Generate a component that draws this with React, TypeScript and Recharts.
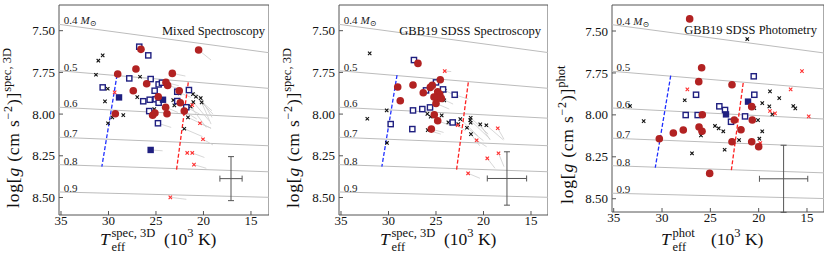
import React from "react";
import {
  ErrorBar,
  ReferenceArea,
  ReferenceDot,
  ReferenceLine,
  Scatter,
  ScatterChart,
  XAxis,
  YAxis
} from "recharts";

type XY = [number, number];
type Seg = [number, number, number, number];

// ---- shared guides (Teff in 10^3 K, log g) ----
const massLabels = ["0.4", "0.5", "0.6", "0.7", "0.8", "0.9"];
const trackTeff: [number, number] = [35.21, 13.1];
const trackLeft = [7.462, 7.74, 7.959, 8.139, 8.303, 8.467];
const trackRight = [7.632, 7.846, 8.025, 8.19, 8.346, 8.499];
const blueEdge: XY[] = [[29.1, 7.766], [30.7, 8.315]];
const redEdge: XY[] = [[21.6, 7.81], [22.85, 8.34]];
const xTicks = [35, 30, 25, 20, 15];
const yTicks = [7.5, 7.75, 8.0, 8.25, 8.5];

// ---- panel 1: mixed spectroscopy ----
const mixCircles: XY[] = [
  [26.58, 7.612], [20.51, 7.616], [27.11, 7.73], [29.03, 7.76], [23.28, 7.756],
  [25.98, 7.818], [23.95, 7.81], [23.77, 7.828], [27.39, 7.86], [22.55, 7.86],
  [24.76, 7.896], [22.44, 7.932], [23.98, 7.959], [22.02, 7.982], [29.28, 7.998],
  [25.35, 8.007], [25.11, 7.994], [23.84, 7.998]
];
const mixOpenSquares: XY[] = [
  [26.76, 7.596], [25.81, 7.648], [30.61, 7.84], [27.81, 7.786], [25.56, 7.79],
  [24.72, 7.822], [24.37, 7.812], [25.14, 7.86], [22.76, 7.866], [21.53, 7.856],
  [26.34, 7.923], [25.66, 7.914], [25.03, 7.911], [24.72, 7.932], [22.76, 7.922],
  [25.71, 7.982], [21.81, 7.959], [24.79, 8.055]
];
const mixFilledSquares: XY[] = [[28.89, 7.9], [24.26, 7.914], [25.56, 8.215]];
const mixBlackCrosses: XY[] = [
  [30.61, 7.648], [31.07, 7.68], [31.32, 7.764], [26.68, 7.776], [30.08, 7.848],
  [26.97, 7.898], [30.37, 7.924], [28.44, 8.006], [30.05, 8.055], [29.6, 8.02],
  [25.18, 7.97], [23.18, 7.916], [23.07, 7.948], [22.51, 7.876], [21.11, 7.88],
  [20.79, 7.896], [20.29, 7.904], [20.19, 7.93], [21.07, 7.928], [21.35, 7.954],
  [21.63, 8.02], [22.02, 8.088]
];
const mixRedCrosses: XY[] = [
  [29.35, 7.87], [21.18, 7.946], [20.37, 8.055], [20.05, 8.151], [21.71, 8.233],
  [21.18, 8.233], [21.0, 8.303], [23.49, 8.499]
];
const mixTails: Seg[] = [
  [20.51, 7.616, 19.2, 7.676], [23.28, 7.756, 21.9, 7.772], [21.53, 7.856, 20.2, 7.9],
  [22.76, 7.866, 21.3, 7.9], [21.11, 7.88, 19.1, 7.98], [20.79, 7.896, 19.0, 8.0],
  [20.29, 7.904, 19.1, 8.02], [20.19, 7.93, 19.2, 8.06], [21.07, 7.928, 19.4, 8.04],
  [21.35, 7.954, 19.7, 8.08], [21.63, 8.02, 19.2, 8.085], [22.02, 8.088, 20.1, 8.135],
  [20.37, 8.055, 19.2, 8.085], [20.05, 8.151, 19.0, 8.185], [21.18, 8.233, 19.9, 8.26],
  [21.0, 8.303, 19.7, 8.325], [23.49, 8.499, 21.8, 8.511], [25.56, 8.215, 24.3, 8.22],
  [24.79, 8.055, 23.4, 8.08], [22.02, 7.982, 20.7, 8.03], [23.98, 7.959, 22.7, 7.99],
  [22.44, 7.932, 21.0, 7.97], [21.81, 7.959, 20.4, 8.0], [23.95, 7.81, 22.6, 7.83],
  [23.77, 7.828, 22.4, 7.85]
];
const mixError = [{ x: 17.1, y: 8.387, ex: 1.17, ey: 0.132 }];

// ---- panel 2: GBB19 SDSS spectroscopy ----
const specCircles: XY[] = [
  [26.9, 7.696], [24.55, 7.794], [29.03, 7.838], [27.42, 7.826], [25.39, 7.828],
  [25.6, 7.84], [26.34, 7.872], [24.82, 7.866], [24.61, 7.882], [24.97, 7.896],
  [24.44, 7.906], [28.76, 7.92], [25.21, 7.898], [25.0, 7.936], [25.18, 8.004],
  [24.82, 8.04], [25.49, 8.09]
];
const specOpenSquares: XY[] = [
  [27.32, 7.676], [25.0, 7.81], [26.05, 7.858], [24.26, 7.852], [23.03, 7.884],
  [27.42, 7.978], [26.44, 7.97], [25.63, 7.96], [29.77, 8.06], [27.49, 8.09],
  [23.24, 8.05]
];
const specBlackCrosses: XY[] = [
  [31.98, 7.636], [32.23, 8.028], [30.19, 7.978], [30.16, 8.173], [24.08, 7.86],
  [24.13, 7.918], [25.91, 7.999], [25.56, 8.016], [24.4, 8.008], [23.7, 8.05],
  [22.44, 8.03], [22.65, 8.06], [21.35, 8.022], [21.4, 8.036], [21.35, 8.052],
  [21.74, 8.082], [21.32, 8.12], [20.34, 8.062], [19.7, 8.067], [25.87, 8.096]
];
const specRedCrosses: XY[] = [
  [24.08, 7.742], [22.72, 8.067], [18.5, 8.085], [20.72, 8.157], [18.42, 8.235],
  [19.6, 8.265], [21.62, 8.355]
];
const specTails: Seg[] = [
  [24.08, 7.742, 23.4, 7.745], [23.03, 7.884, 21.6, 7.91], [24.26, 7.852, 22.6, 7.9],
  [23.24, 8.05, 21.9, 8.1], [22.44, 8.03, 20.6, 8.13], [21.35, 8.022, 19.5, 8.12],
  [21.4, 8.036, 19.3, 8.15], [20.34, 8.062, 19.3, 8.155], [19.7, 8.067, 17.9, 8.155],
  [18.5, 8.085, 17.84, 8.151], [21.74, 8.082, 20.0, 8.16], [21.32, 8.12, 20.4, 8.19],
  [20.72, 8.157, 19.67, 8.196], [18.42, 8.235, 17.84, 8.315], [19.6, 8.265, 18.79, 8.325],
  [21.62, 8.355, 20.37, 8.385], [25.49, 8.09, 24.2, 8.11], [25.87, 8.096, 24.5, 8.12],
  [24.82, 8.04, 23.4, 8.07], [25.0, 7.936, 23.6, 7.97], [24.44, 7.906, 23.2, 7.94]
];
const specError = [{ x: 17.53, y: 8.386, ex: 2.07, ey: 0.16 }];

// ---- panel 3: GBB19 SDSS photometry ----
const photCircles: XY[] = [
  [27.14, 7.428], [25.9, 7.719], [26.2, 7.802], [25.83, 7.999], [26.17, 8.072],
  [25.86, 8.098], [27.8, 8.09], [28.83, 8.108], [30.28, 8.142], [25.07, 8.349],
  [22.76, 7.82], [20.72, 7.951], [22.52, 8.031], [20.66, 8.031], [21.83, 8.089],
  [22.76, 8.16], [20.72, 8.16], [20.0, 8.19]
];
const photOpenSquares: XY[] = [
  [20.51, 7.77], [20.45, 7.88], [24.07, 7.949], [23.48, 7.971], [22.86, 8.041],
  [21.41, 8.009], [26.48, 7.88], [27.55, 8.001], [26.31, 8.001]
];
const photFilledSquares: XY[] = [[21.1, 7.921], [23.38, 7.997]];
const photBlackCrosses: XY[] = [
  [21.18, 7.548], [31.9, 8.037], [27.65, 7.913], [33.31, 7.947], [25.97, 8.122],
  [24.52, 8.066], [24.14, 8.08], [23.66, 8.098], [26.9, 8.229], [23.52, 8.208],
  [18.83, 7.86], [17.87, 7.9], [19.63, 7.93], [18.9, 7.949], [18.59, 7.997],
  [16.42, 7.947], [16.21, 7.961], [20.07, 8.031], [19.63, 8.098], [19.93, 8.142],
  [22.03, 8.15], [20.45, 7.96]
];
const photRedCrosses: XY[] = [
  [27.38, 7.848], [15.52, 7.739], [16.69, 7.848], [18.83, 7.977], [18.31, 7.991],
  [14.82, 8.009], [19.83, 8.168]
];
const photError = [{ x: 17.42, y: 8.381, ex: 2.5, ey: 0.2 }];

const SERIF = "'Liberation Serif', 'DejaVu Serif', serif";
const RED = "#b22222";
const NAVY = "#1f1f80";

const toPts = (arr: XY[]) => arr.map(([x, y]) => ({ x, y }));

const RedDot = (p: any) => <circle cx={p.cx} cy={p.cy} r={3.8} fill={RED} />;
const OpenSquare = (p: any) => (
  <rect x={p.cx - 2.6} y={p.cy - 2.6} width={5.2} height={5.2} fill="#fff" stroke={NAVY} strokeWidth={1.4} />
);
const FilledSquare = (p: any) => (
  <rect x={p.cx - 3.2} y={p.cy - 3.2} width={6.4} height={6.4} fill={NAVY} />
);
const crossShape = (color: string) => (p: any) => (
  <path
    d={`M${p.cx - 1.7},${p.cy - 1.7}L${p.cx + 1.7},${p.cy + 1.7}M${p.cx - 1.7},${p.cy + 1.7}L${p.cx + 1.7},${p.cy - 1.7}`}
    stroke={color}
    strokeWidth={1.1}
  />
);
const BlackCross = crossShape("#111");
const RedCross = crossShape("#ff3030");
const Nothing = () => <g />;

type PanelProps = {
  plotL: number;
  plotW: number;
  plotB: number;
  xDomain: [number, number];
  yDomain: [number, number];
  circles: XY[];
  openSquares: XY[];
  filledSquares: XY[];
  blackCrosses: XY[];
  redCrosses: XY[];
  tails: Seg[];
  error: { x: number; y: number; ex: number; ey: number }[];
};

function Panel(props: PanelProps) {
  const yw = 50;
  const xh = 30;
  const tickStyle = { fill: "#111", fontSize: 13, fontFamily: SERIF };
  return (
    <div style={{ position: "absolute", left: props.plotL - yw, top: 0 }}>
      <ScatterChart
        width={yw + props.plotW}
        height={264}
        margin={{ top: 5, right: 0, left: 0, bottom: 264 - props.plotB - xh }}
      >
        <XAxis
          type="number"
          dataKey="x"
          domain={props.xDomain}
          allowDataOverflow
          reversed
          ticks={xTicks}
          height={xh}
          axisLine={false}
          tickSize={-4}
          tickMargin={5}
          tickLine={{ stroke: "#555" }}
          tick={tickStyle}
        />
        <YAxis
          type="number"
          dataKey="y"
          domain={props.yDomain}
          allowDataOverflow
          reversed
          ticks={yTicks}
          width={yw}
          axisLine={false}
          tickSize={-4}
          tickMargin={8}
          tickLine={{ stroke: "#555" }}
          tick={tickStyle}
          tickFormatter={(v: number) => v.toFixed(2)}
        />
        {massLabels.map((m, i) => (
          <ReferenceLine
            key={"trk" + m}
            segment={[
              { x: trackTeff[0], y: trackLeft[i] },
              { x: trackTeff[1], y: trackRight[i] }
            ]}
            stroke="#bcbcbc"
            strokeWidth={1}
            ifOverflow="hidden"
          />
        ))}
        {props.tails.map((t, i) => (
          <ReferenceLine
            key={"tail" + i}
            segment={[
              { x: t[0], y: t[1] },
              { x: t[2], y: t[3] }
            ]}
            stroke="#cdcdcd"
            strokeWidth={0.8}
            ifOverflow="hidden"
          />
        ))}
        {massLabels.map((m, i) => (
          <ReferenceDot
            key={"lbl" + m}
            x={34.7}
            y={trackLeft[i] + 0.006}
            ifOverflow="visible"
            shape={(p: any) => (
              <text x={p.cx} y={p.cy - 1} fontFamily={SERIF} fontSize={11} fill="#222">
                {m}
                {i === 0 ? (
                  <>
                    <tspan dx={3} fontStyle="italic">M</tspan>
                    <tspan fontSize={8} dy={2}>⊙</tspan>
                  </>
                ) : null}
              </text>
            )}
          />
        ))}
        <ReferenceLine
          segment={[
            { x: blueEdge[0][0], y: blueEdge[0][1] },
            { x: blueEdge[1][0], y: blueEdge[1][1] }
          ]}
          stroke="#2030ff"
          strokeWidth={1.3}
          strokeDasharray="4 2"
        />
        <ReferenceLine
          segment={[
            { x: redEdge[0][0], y: redEdge[0][1] },
            { x: redEdge[1][0], y: redEdge[1][1] }
          ]}
          stroke="#ff2020"
          strokeWidth={1.3}
          strokeDasharray="4 2"
        />
        <Scatter data={props.error} shape={Nothing} isAnimationActive={false}>
          <ErrorBar dataKey="ex" direction="x" width={3} stroke="#555" strokeWidth={1} />
          <ErrorBar dataKey="ey" direction="y" width={3} stroke="#555" strokeWidth={1} />
        </Scatter>
        <Scatter data={toPts(props.blackCrosses)} shape={BlackCross} isAnimationActive={false} />
        <Scatter data={toPts(props.redCrosses)} shape={RedCross} isAnimationActive={false} />
        <Scatter data={toPts(props.openSquares)} shape={OpenSquare} isAnimationActive={false} />
        <Scatter data={toPts(props.filledSquares)} shape={FilledSquare} isAnimationActive={false} />
        <Scatter data={toPts(props.circles)} shape={RedDot} isAnimationActive={false} />
        <ReferenceArea
          x1={props.xDomain[0]}
          x2={props.xDomain[1]}
          y1={props.yDomain[0]}
          y2={props.yDomain[1]}
          fill="none"
          stroke="#555"
          strokeWidth={1}
          ifOverflow="visible"
        />
      </ScatterChart>
    </div>
  );
}

function XTitle({ x, sup }: { x: number; sup: string }) {
  return (
    <text fontFamily={SERIF} fontSize={17.5} fill="#111">
      <tspan x={x} y={245} fontStyle="italic">T</tspan>
      <tspan x={x + 11.5} y={237} fontSize={12.5}>{sup}</tspan>
      <tspan x={x + 11.5} y={251} fontSize={12.5}>eff</tspan>
      <tspan x={x + (sup === "phot" ? 50 : 64)} y={245}>(10</tspan>
      <tspan y={237} fontSize={12.5}>3</tspan>
      <tspan y={245}> K)</tspan>
    </text>
  );
}

function YTitle({ x, y, sup }: { x: number; y: number; sup: string }) {
  return (
    <text transform={`translate(${x},${y}) rotate(-90)`} fontFamily={SERIF} fontSize={17.5} fill="#111" letterSpacing={0.8}>
      <tspan>log[</tspan>
      <tspan fontStyle="italic">g</tspan>
      <tspan> (cm s</tspan>
      <tspan fontSize={12} dy={-7}>−2</tspan>
      <tspan dy={7}>)]</tspan>
      <tspan fontSize={12.5} dy={-8} letterSpacing={0}>{sup}</tspan>
    </text>
  );
}

export default function App() {
  return (
    <div style={{ position: "fixed", left: 0, top: 0, width: 830, height: 264, background: "#fff", overflow: "hidden" }}>
      <Panel
        plotL={59}
        plotW={210}
        plotB={215}
        xDomain={[13.1, 35.21]}
        yDomain={[7.346, 8.605]}
        circles={mixCircles}
        openSquares={mixOpenSquares}
        filledSquares={mixFilledSquares}
        blackCrosses={mixBlackCrosses}
        redCrosses={mixRedCrosses}
        tails={mixTails}
        error={mixError}
      />
      <Panel
        plotL={339}
        plotW={209}
        plotB={215}
        xDomain={[13.21, 35.21]}
        yDomain={[7.346, 8.605]}
        circles={specCircles}
        openSquares={specOpenSquares}
        filledSquares={[]}
        blackCrosses={specBlackCrosses}
        redCrosses={specRedCrosses}
        tails={specTails}
        error={specError}
      />
      <Panel
        plotL={612}
        plotW={212}
        plotB={212}
        xDomain={[13.24, 35.176]}
        yDomain={[7.345, 8.579]}
        circles={photCircles}
        openSquares={photOpenSquares}
        filledSquares={photFilledSquares}
        blackCrosses={photBlackCrosses}
        redCrosses={photRedCrosses}
        tails={[]}
        error={photError}
      />
      <svg width={830} height={264} style={{ position: "absolute", left: 0, top: 0, pointerEvents: "none" }}>
        <g fontFamily={SERIF} fontSize={12.5} fill="#111" textAnchor="end">
          <text x={265} y={34.5}>Mixed Spectroscopy</text>
          <text x={541} y={34.5}>GBB19 SDSS Spectroscopy</text>
          <text x={817} y={34}>GBB19 SDSS Photometry</text>
        </g>
        <XTitle x={100} sup="spec, 3D" />
        <XTitle x={380} sup="spec, 3D" />
        <XTitle x={661} sup="phot" />
        <YTitle x={19} y={208} sup="spec, 3D" />
        <YTitle x={299} y={208} sup="spec, 3D" />
        <YTitle x={573} y={204} sup="phot" />
      </svg>
    </div>
  );
}
